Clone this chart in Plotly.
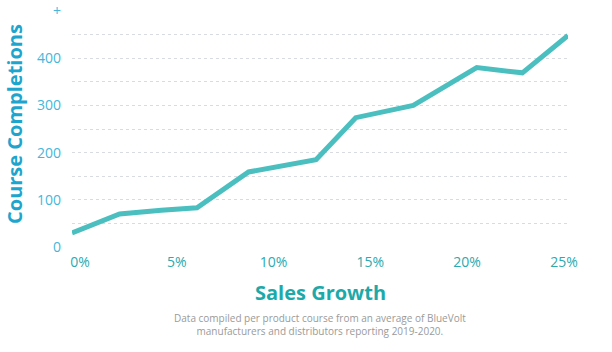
import plotly.graph_objects as go

sales_growth = [0, 2.4, 4.5, 6.3, 8.9, 12.3, 14.3, 17.2, 20.4, 22.7, 25]
completions = [30, 70, 78, 83, 159, 185, 274, 300, 380, 369, 448]
y_tickvals = [0, 100, 200, 300, 400, 500]
y_ticktext = ["0", "100", "200", "300", "400", "+"]
x_tickvals = [0, 5, 10, 15, 20, 25]
x_ticktext = ["0%", "5%", "10%", "15%", "20%", "25%"]

FONT = "Open Sans"

fig = go.Figure()
fig.add_trace(go.Scatter(
    x=sales_growth, y=completions, mode="lines",
    line=dict(color="#4BBFC0", width=5),
    hoverinfo="skip", showlegend=False,
))
# invisible trace bound to the label axis
fig.add_trace(go.Scatter(
    x=[x_tickvals[0], x_tickvals[-1]], y=[0, 0], xaxis="x2", mode="lines",
    line=dict(width=0), opacity=0, hoverinfo="skip", showlegend=False,
))

fig.update_layout(
    width=612, height=352,
    margin=dict(l=72, r=44, t=11, b=105),
    paper_bgcolor="white", plot_bgcolor="white",
    font=dict(family=FONT),
    xaxis=dict(
        range=[0, 25], showticklabels=False,
        showgrid=False, zeroline=False, showline=False, ticks="",
        automargin=False,
    ),
    xaxis2=dict(
        overlaying="x", side="bottom", anchor="y",
        range=[-0.413, 25.21], tickvals=x_tickvals, ticktext=x_ticktext,
        showgrid=False, zeroline=False, showline=False, ticks="",
        tickfont=dict(size=14, color="#2BAAB0", family=FONT),
        ticklabelstandoff=5, automargin=False,
    ),
    yaxis=dict(
        range=[0, 500], tickvals=y_tickvals, ticktext=y_ticktext,
        showgrid=True, gridcolor="#D9DBE3", griddash="dot", gridwidth=1,
        minor=dict(dtick=50, tick0=0, showgrid=True, gridcolor="#D9DBE3",
                   griddash="dot", gridwidth=1),
        zeroline=False, showline=False, ticks="",
        tickfont=dict(size=14, color="#45B6DA", family=FONT),
        ticklabelstandoff=10, automargin=False,
    ),
    annotations=[
        dict(text="<b>Course Completions</b>", xref="paper", yref="paper",
             x=(15 - 72) / 496, y=(247 - 124) / 236, textangle=-90, showarrow=False,
             font=dict(size=20, color="#1DA5CE", family=FONT),
             xanchor="center", yanchor="middle"),
        dict(text="<b>Sales Growth</b>", xref="paper", yref="paper",
             x=(320 - 72) / 496, y=(247 - 292) / 236, showarrow=False,
             font=dict(size=20, color="#1EA9A9", family=FONT),
             xanchor="center", yanchor="middle"),
        dict(text="Data compiled per product course from an average of BlueVolt<br>"
                  "manufacturers and distributors reporting 2019-2020.",
             xref="paper", yref="paper",
             x=(320 - 72) / 496, y=(247 - 324) / 236, showarrow=False,
             font=dict(size=10, color="#9A9A9A", family=FONT),
             xanchor="center", yanchor="middle", align="center"),
    ],
)

fig.write_html("out.html")
